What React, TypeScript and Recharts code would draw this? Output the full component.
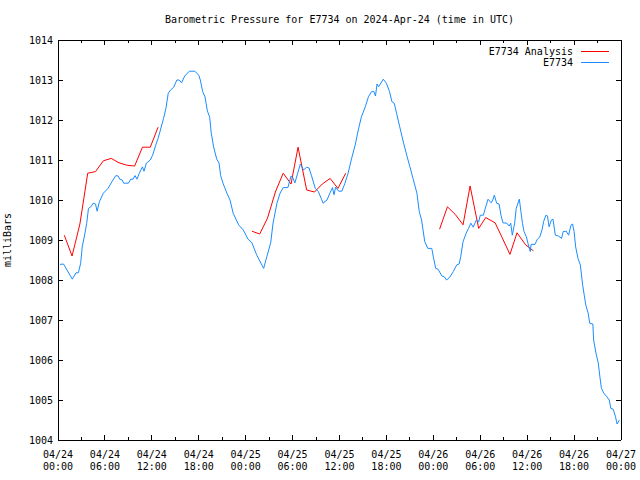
import React from "react";
import { LineChart, Line, XAxis, YAxis, Legend, ReferenceLine } from "recharts";

const FONT = "'DejaVu Sans Mono', monospace";
const FS = 10;
const RED = "#ff0000";
const BLUE = "#1a8cff";

// plot frame (from chart margins + axis sizes)
const PLOT_LEFT = 58;
const PLOT_RIGHT = 621;
const PLOT_TOP = 40;
const PLOT_BOTTOM = 440;

// hours since 2024-04-24 00:00 UTC
const stationHours = [
  0.26, 0.7, 1.0, 1.83, 2.3, 2.6, 2.9, 3.1, 3.45, 3.67, 3.9, 4.2, 4.5, 4.8, 5.0, 5.3, 5.8, 6.4, 6.9, 7.4,
  7.7, 7.9, 8.2, 8.4, 9.0, 9.3, 9.6, 9.85, 10.1, 10.4, 10.8, 11.0, 11.3, 11.8, 12.1, 12.5, 12.8, 13.1,
  13.5, 13.8, 14.1, 14.4, 14.8, 15.2, 15.5, 15.8, 16.2, 16.8, 17.5, 18.0, 18.2, 18.5, 18.8, 19.1, 19.4,
  19.6, 19.9, 20.3, 20.6, 20.8, 21.1, 21.6, 22.0, 22.4, 23.1, 23.7, 24.3, 24.8, 25.4, 26.3, 26.7, 27.2,
  27.5, 28.0, 28.4, 28.8, 29.4, 29.8, 30.0, 30.3, 30.65, 31.0, 31.4, 31.8, 32.1, 32.4, 32.9, 33.3, 33.7,
  33.9, 34.4, 34.8, 35.1, 35.3, 35.5, 35.9, 36.3, 36.7, 37.1, 37.5, 38.0, 38.4, 38.8, 39.3, 39.7, 40.1,
  40.4, 40.6, 40.8, 41.0, 41.6, 42.0, 42.4, 42.7, 43.0, 43.3, 43.7, 44.2, 44.6, 45.0, 45.4, 45.9, 46.2,
  46.5, 46.9, 47.3, 47.8, 48.0, 48.3, 48.6, 49.1, 49.4, 49.7, 50.1, 50.55, 51.0, 51.3, 51.5, 51.8, 52.2,
  52.5, 52.8, 53.1, 53.5, 53.8, 54.0, 54.4, 54.7, 55.0, 55.4, 55.6, 55.8, 56.1, 56.4, 56.65, 56.9, 57.4,
  57.7, 57.9, 58.1, 58.4, 58.6, 59.0, 59.2, 59.4, 59.6, 59.9, 60.1, 60.4, 60.5, 61.0, 61.3, 61.6, 61.9,
  62.1, 62.4, 62.6, 62.8, 63.1, 63.3, 63.6, 64.0, 64.4, 64.6, 65.0, 65.3, 65.6, 65.8, 66.0, 66.2, 66.5,
  66.8, 67.1, 67.3, 67.5, 67.8, 68.0, 68.4, 68.5, 68.8, 69.1, 69.3, 69.5, 69.8, 70.2, 70.5, 70.7, 71.0,
  71.3, 71.5, 71.8,
];
const stationValues = [
  1008.39, 1008.4, 1008.3, 1008.02, 1008.18, 1008.18, 1008.42, 1008.83, 1009.17, 1009.42, 1009.79,
  1009.83, 1009.92, 1009.9, 1009.72, 1009.96, 1010.17, 1010.29, 1010.46, 1010.61, 1010.6, 1010.52,
  1010.5, 1010.42, 1010.42, 1010.52, 1010.52, 1010.61, 1010.52, 1010.67, 1010.83, 1010.72, 1010.92,
  1011.0, 1011.12, 1011.37, 1011.54, 1011.75, 1012.04, 1012.29, 1012.67, 1012.75, 1012.82, 1013.0,
  1013.0, 1012.93, 1013.1, 1013.22, 1013.22, 1013.12, 1013.0, 1012.71, 1012.58, 1012.23, 1012.07,
  1011.67, 1011.33, 1011.02, 1010.92, 1010.61, 1010.42, 1010.17, 1010.0, 1009.67, 1009.38, 1009.25,
  1009.02, 1008.93, 1008.63, 1008.29, 1008.58, 1008.93, 1009.42, 1009.92, 1010.17, 1010.31, 1010.31,
  1010.6, 1010.57, 1010.43, 1010.67, 1010.9, 1010.75, 1010.82, 1010.8, 1010.62, 1010.29, 1010.21,
  1010.02, 1009.92, 1010.0, 1010.18, 1010.31, 1010.13, 1010.32, 1010.22, 1010.22, 1010.42, 1010.67,
  1011.0, 1011.37, 1011.75, 1012.08, 1012.33, 1012.58, 1012.71, 1012.71, 1012.6, 1012.9, 1012.83,
  1013.02, 1012.92, 1012.71, 1012.46, 1012.42, 1012.17, 1011.83, 1011.42, 1011.12, 1010.83, 1010.54,
  1010.17, 1009.71, 1009.5, 1008.96, 1008.79, 1008.79, 1008.58, 1008.29, 1008.27, 1008.1, 1008.08,
  1008.0, 1008.07, 1008.21, 1008.38, 1008.4, 1008.58, 1008.96, 1009.17, 1009.29, 1009.42, 1009.32,
  1009.5, 1009.45, 1009.62, 1009.62, 1009.83, 1010.02, 1009.93, 1010.0, 1010.12, 1009.92, 1009.9,
  1009.62, 1009.43, 1009.42, 1009.35, 1009.42, 1009.12, 1009.42, 1009.79, 1010.02, 1009.71, 1009.42,
  1009.21, 1009.08, 1008.92, 1008.71, 1008.89, 1008.89, 1009.02, 1009.07, 1009.25, 1009.46, 1009.62,
  1009.6, 1009.33, 1009.5, 1009.52, 1009.12, 1009.1, 1009.04, 1009.21, 1009.22, 1009.12, 1009.37,
  1009.4, 1009.21, 1008.83, 1008.54, 1008.38, 1007.87, 1007.62, 1007.37, 1007.17, 1006.92, 1006.9,
  1006.5, 1006.17, 1005.92, 1005.58, 1005.29, 1005.17, 1005.08, 1005.0, 1004.79, 1004.77, 1004.58,
  1004.4, 1004.5,
];

// analysis runs, null = gap between runs
const analysisHours = [
  0.8, 1.8, 2.8, 3.8, 4.8, 5.8, 6.8, 7.8, 8.8, 9.8, 10.8, 11.8, 12.8, 18,
  24.8, 25.8, 26.8, 27.8, 28.8, 29.8, 30.7, 31.8, 32.8, 33.8, 34.8, 35.8, 36.8, 42,
  48.8, 49.8, 50.8, 51.8, 52.7, 53.8, 54.7, 55.9, 56.8, 57.8, 58.7, 59.8, 60.8,
];
const analysisValues = [
  1009.12, 1008.6, 1009.4, 1010.67, 1010.71, 1010.98, 1011.04, 1010.93, 1010.87, 1010.85, 1011.32, 1011.32, 1011.82, null,
  1009.22, 1009.15, 1009.55, 1010.2, 1010.67, 1010.4, 1011.32, 1010.25, 1010.2, 1010.4, 1010.54, 1010.29, 1010.67, null,
  1009.27, 1009.83, 1009.64, 1009.38, 1010.35, 1009.29, 1009.56, 1009.43, 1009.06, 1008.64, 1009.18, 1008.88, 1008.73,
];

const majorTicks = [0, 6, 12, 18, 24, 30, 36, 42, 48, 54, 60, 66, 72];
const minorTicks = [3, 9, 15, 21, 27, 33, 39, 45, 51, 57, 63, 69];
const dayLabels = ["04/24", "04/24", "04/24", "04/24", "04/25", "04/25", "04/25", "04/25", "04/26", "04/26", "04/26", "04/26", "04/27"];
const timeLabels = ["00:00", "06:00", "12:00", "18:00", "00:00", "06:00", "12:00", "18:00", "00:00", "06:00", "12:00", "18:00", "00:00"];
const pressureTicks = [1004, 1005, 1006, 1007, 1008, 1009, 1010, 1011, 1012, 1013, 1014];

const timeTicks = [...majorTicks, ...minorTicks].sort((a, b) => a - b);
const stationData = stationHours.map((h, i) => ({ h, v: stationValues[i] }));
const analysisData = analysisHours.map((h, i) => ({ h, v: analysisValues[i] }));

const txt = { fontFamily: FONT, fontSize: FS, fill: "#000" };
const crisp = { stroke: "#000", strokeWidth: 1, shapeRendering: "crispEdges" as const };

// gnuplot style: tics point inward and are mirrored on the opposite border
const TimeTick = (props: any) => {
  const { x, payload } = props;
  const i = majorTicks.indexOf(payload.value);
  const len = i >= 0 ? 5 : 3;
  return (
    <g>
      <line x1={x} x2={x} y1={PLOT_BOTTOM} y2={PLOT_BOTTOM - len} {...crisp} />
      <line x1={x} x2={x} y1={PLOT_TOP} y2={PLOT_TOP + len} {...crisp} />
      {i >= 0 && (
        <>
          <text x={x} y={PLOT_BOTTOM + 18} textAnchor="middle" {...txt}>{dayLabels[i]}</text>
          <text x={x} y={PLOT_BOTTOM + 30} textAnchor="middle" {...txt}>{timeLabels[i]}</text>
        </>
      )}
    </g>
  );
};

const PressureTick = (props: any) => {
  const { y, payload } = props;
  return (
    <g>
      <line x1={PLOT_LEFT} x2={PLOT_LEFT + 5} y1={y} y2={y} {...crisp} />
      <line x1={PLOT_RIGHT - 5} x2={PLOT_RIGHT} y1={y} y2={y} {...crisp} />
      <text x={PLOT_LEFT - 5} y={y} dy="0.36em" textAnchor="end" {...txt}>{payload.value}</text>
    </g>
  );
};

const LegendBox = () => (
  <svg width={640} height={30}>
    <text x={573} y={14.5} textAnchor="end" {...txt}>E7734 Analysis</text>
    <line x1={581} x2={609} y1={11} y2={11} stroke={RED} shapeRendering="crispEdges" />
    <text x={573} y={25.5} textAnchor="end" {...txt}>E7734</text>
    <line x1={581} x2={609} y1={22} y2={22} stroke={BLUE} shapeRendering="crispEdges" />
  </svg>
);

export default function App() {
  return (
    <div style={{ position: "absolute", left: 0, top: 0, width: 640, height: 480, background: "#fff" }}>
      <LineChart width={640} height={480} margin={{ top: PLOT_TOP, right: 640 - PLOT_RIGHT, bottom: 0, left: 0 }}>
        <XAxis
          xAxisId="main"
          type="number"
          dataKey="h"
          domain={[0, 72]}
          ticks={timeTicks}
          interval={0}
          height={480 - PLOT_BOTTOM}
          tick={<TimeTick />}
          tickLine={false}
          axisLine={crisp}
        />
        <YAxis
          yAxisId="left"
          type="number"
          domain={[1004, 1014]}
          ticks={pressureTicks}
          interval={0}
          width={PLOT_LEFT}
          tick={<PressureTick />}
          tickLine={false}
          axisLine={crisp}
          label={{
            content: () => (
              <g>
                <text x={339.5} y={23} textAnchor="middle" {...txt}>
                  Barometric Pressure for E7734 on 2024-Apr-24 (time in UTC)
                </text>
                <text x={11} y={240} textAnchor="middle" transform="rotate(-90 11 240)" {...txt}>
                  milliBars
                </text>
              </g>
            ),
          }}
        />
        <ReferenceLine xAxisId="main" yAxisId="left" y={1014} {...crisp} />
        <ReferenceLine xAxisId="main" yAxisId="left" x={72} {...crisp} />
        <Legend
          layout="horizontal"
          verticalAlign="middle"
          align="center"
          wrapperStyle={{ position: "absolute", top: 40, left: 0, width: 640, height: 30 }}
          content={() => <LegendBox />}
        />
        <Line
          xAxisId="main"
          yAxisId="left"
          data={analysisData}
          dataKey="v"
          name="E7734 Analysis"
          stroke={RED}
          strokeWidth={1}
          dot={false}
          type="linear"
          connectNulls={false}
          isAnimationActive={false}
        />
        <Line
          xAxisId="main"
          yAxisId="left"
          data={stationData}
          dataKey="v"
          name="E7734"
          stroke={BLUE}
          strokeWidth={1}
          dot={false}
          type="linear"
          isAnimationActive={false}
        />
      </LineChart>
    </div>
  );
}
